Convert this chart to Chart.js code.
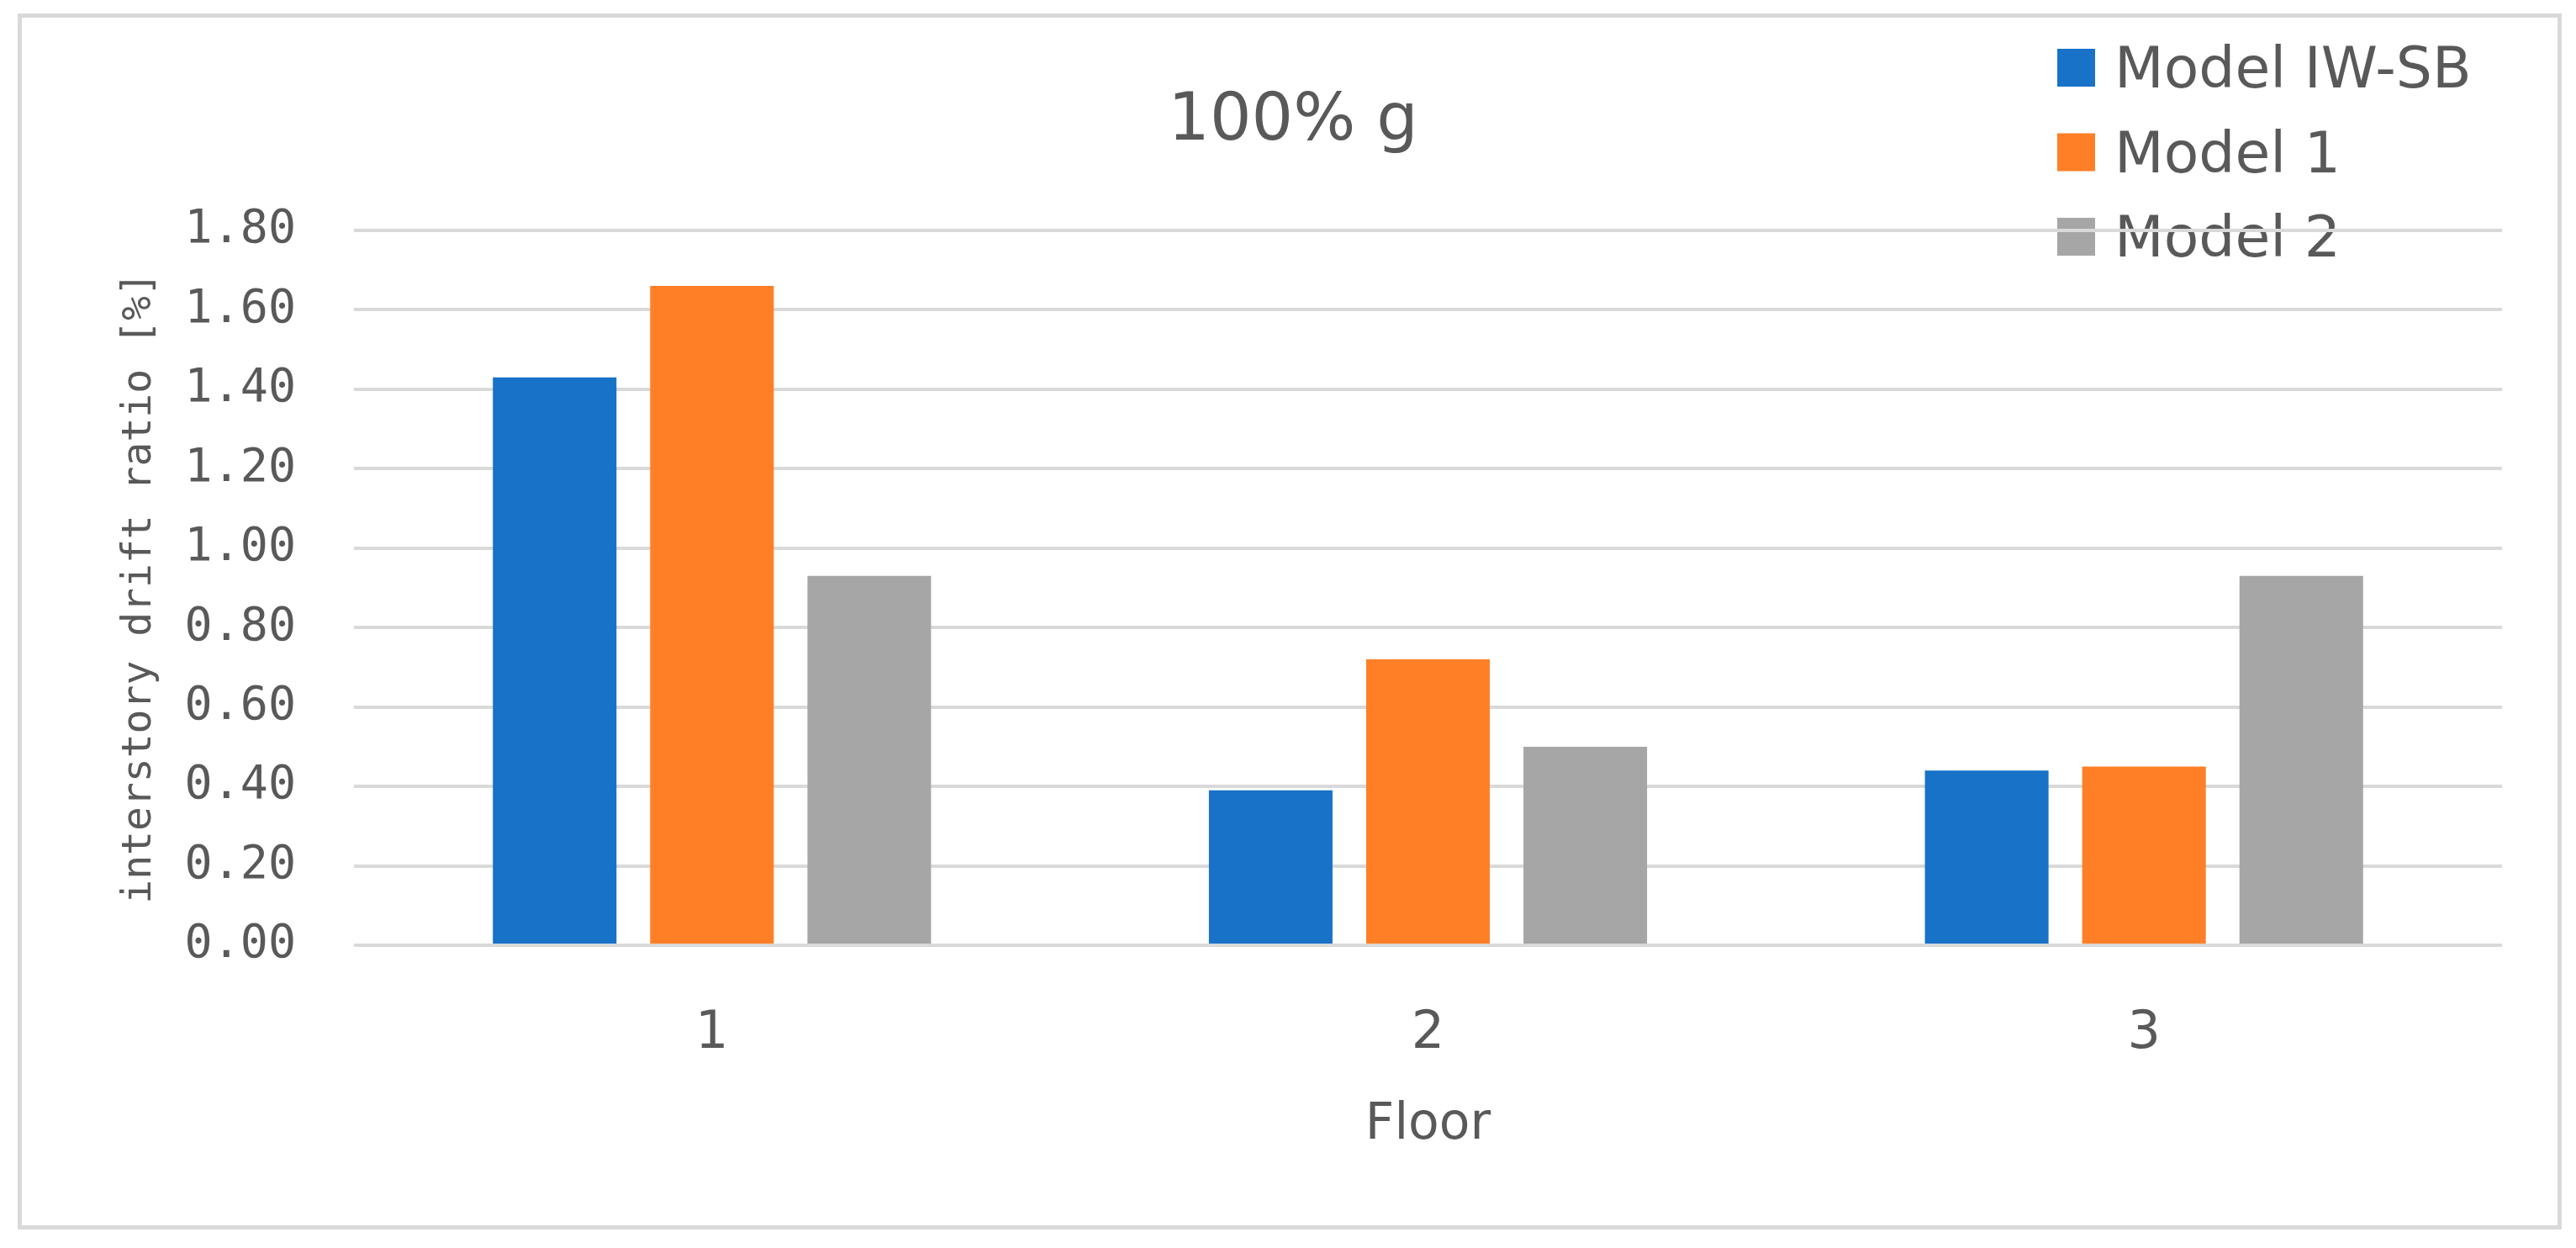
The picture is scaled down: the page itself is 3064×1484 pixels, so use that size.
<!DOCTYPE html>
<html>
<head>
<meta charset="utf-8">
<script src="https://cdn.jsdelivr.net/npm/chart.js@4/dist/chart.umd.min.js"></script>
<style>
  html, body { margin: 0; padding: 0; background: #ffffff; }
  #wrap { position: relative; width: 3064px; height: 1484px; }
</style>
</head>
<body>
<div id="wrap"><canvas id="c"></canvas></div>
<script>
// ---- data ----
const categories = ['1', '2', '3'];
const seriesNames = ['Model IW-SB', 'Model 1', 'Model 2'];
const modelIWSB = [1.43, 0.39, 0.44];
const model1 = [1.66, 0.72, 0.45];
const model2 = [0.93, 0.50, 0.93];
const yTickValues = [0, 0.2, 0.4, 0.6, 0.8, 1.0, 1.2, 1.4, 1.6, 1.8];
const yTickLabels = ['0.00', '0.20', '0.40', '0.60', '0.80', '1.00', '1.20', '1.40', '1.60', '1.80'];
const chartTitle = '100% g';
const xAxisTitle = 'Floor';
const yAxisTitle = 'interstory drift ratio [%]';

const colors = ['#1872C8', '#FF7F27', '#A6A6A6'];
const textColor = '#595959';

const framePlugin = {
  id: 'frame',
  beforeDraw(chart) {
    const ctx = chart.ctx;
    ctx.save();
    ctx.fillStyle = '#ffffff';
    ctx.fillRect(0, 0, chart.width, chart.height);
    ctx.strokeStyle = '#D9D9D9';
    ctx.lineWidth = 5;
    ctx.strokeRect(23.5, 18.5, 3021, 1441);
    // legend (drawn before scales so gridlines pass over it, as in the reference)
    ctx.font = '68px "DejaVu Sans"';
    ctx.textBaseline = 'alphabetic';
    ctx.textAlign = 'left';
    chart.data.datasets.forEach((ds, i) => {
      const top = 58 + i * 100.5;
      ctx.fillStyle = ds.backgroundColor;
      ctx.fillRect(2447, top, 45, 45);
      ctx.fillStyle = textColor;
      ctx.fillText(ds.label, 2515, top + 46);
    });
    ctx.restore();
  }
};

const datasets = [modelIWSB, model1, model2].map((d, i) => ({
  label: seriesNames[i],
  data: d,
  backgroundColor: colors[i],
  borderWidth: 0,
  barPercentage: 0.786,
  categoryPercentage: 0.659
}));

new Chart(document.getElementById('c'), {
  type: 'bar',
  data: { labels: categories, datasets },
  options: {
    responsive: true,
    maintainAspectRatio: false,
    devicePixelRatio: 1,
    animation: false,
    layout: { padding: { left: 100, right: 88, top: 0, bottom: 0 } },
    plugins: {
      legend: { display: false },
      tooltip: { enabled: false },
      title: {
        display: true,
        text: chartTitle,
        color: textColor,
        font: { family: '"DejaVu Sans"', size: 78, weight: 'normal', lineHeight: 1.2 },
        padding: { top: 99, bottom: 81.4 }
      }
    },
    scales: {
      x: {
        grid: { display: false, drawTicks: false },
        border: { display: false },
        ticks: {
          color: textColor,
          font: { family: '"DejaVu Sans"', size: 62, lineHeight: 1.2 },
          padding: 69
        },
        title: {
          display: true,
          text: xAxisTitle,
          color: textColor,
          font: { family: '"DejaVu Sans"', size: 60, lineHeight: 1.2 },
          padding: { top: 0, bottom: 110 }
        },
        afterFit(s) { s.height = 360; }
      },
      y: {
        min: 0,
        max: 1.8,
        grid: { color: '#D9D9D9', lineWidth: 4, drawTicks: false },
        border: { display: false },
        afterBuildTicks(s) { s.ticks = yTickValues.map(v => ({ value: v })); },
        ticks: {
          color: textColor,
          font: { family: '"DejaVu Sans Mono"', size: 55, lineHeight: 1.2 },
          padding: 69,
          callback(v) {
            const idx = yTickValues.findIndex(t => Math.abs(t - v) < 1e-9);
            return idx >= 0 ? yTickLabels[idx] : '';
          }
        },
        title: {
          display: true,
          text: yAxisTitle,
          color: textColor,
          font: { family: '"DejaVu Sans Mono"', size: 48, lineHeight: 1.2 },
          padding: { top: 38, bottom: 0 }
        },
        afterFit(s) { s.width = 321; }
      }
    }
  },
  plugins: [framePlugin]
});
</script>
</body>
</html>
